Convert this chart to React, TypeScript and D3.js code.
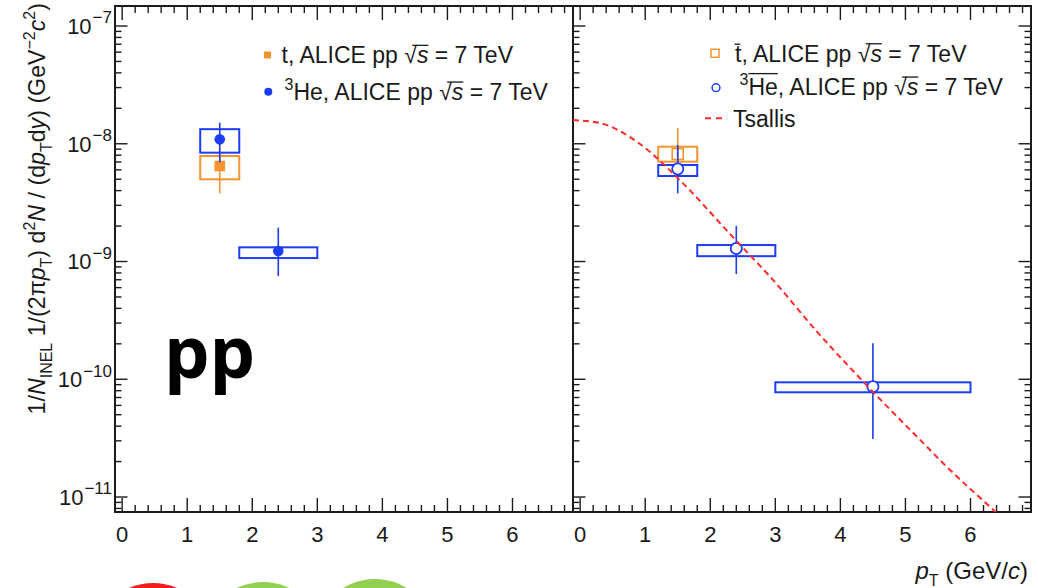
import React, { useEffect, useRef } from 'react';
import * as d3 from 'd3';

const W = 1038;
const H = 588;
const FONT = '"Liberation Sans", Arial, Helvetica, sans-serif';

// ---------- data ----------
const xTickValues = [0, 1, 2, 3, 4, 5, 6];
const yDecades = [-11, -10, -9, -8, -7];

// Left panel: triton (filled square)
const tritonX = [1.5];
const tritonBinLo = [1.2];
const tritonBinHi = [1.8];
const tritonY = [6.47e-9];
const tritonStatLo = [3.8e-9];
const tritonStatHi = [9.0e-9];
const tritonSysLo = [4.99e-9];
const tritonSysHi = [7.87e-9];

// Left panel: 3He (filled circle)
const he3X = [1.5, 2.4];
const he3BinLo = [1.2, 1.8];
const he3BinHi = [1.8, 3.0];
const he3Y = [1.09e-8, 1.23e-9];
const he3StatLo = [6.96e-9, 7.53e-10];
const he3StatHi = [1.51e-8, 1.94e-9];
const he3SysLo = [8.4e-9, 1.07e-9];
const he3SysHi = [1.33e-8, 1.32e-9];

// Right panel: anti-triton (open square)
const atX = [1.5];
const atBinLo = [1.2];
const atBinHi = [1.8];
const atY = [8.18e-9];
const atStatLo = [5.0e-9];
const atStatHi = [1.36e-8];
const atSysLo = [7.05e-9];
const atSysHi = [9.44e-9];

// Right panel: anti-3He (open circle)
const ahX = [1.5, 2.4, 4.5];
const ahBinLo = [1.2, 1.8, 3.0];
const ahBinHi = [1.8, 3.0, 6.0];
const ahY = [6.11e-9, 1.29e-9, 8.65e-11];
const ahStatLo = [3.79e-9, 7.83e-10, 3.11e-11];
const ahStatHi = [9.75e-9, 2.01e-9, 2.02e-10];
const ahSysLo = [5.32e-9, 1.11e-9, 7.75e-11];
const ahSysHi = [6.6e-9, 1.38e-9, 9.42e-11];

// Tsallis curve
const tsallisPt = [-0.11, 0.3, 0.92, 1.53, 2.39, 2.92, 3.64, 4.5, 5.33, 5.53, 6.38, 6.6];
const tsallisVal = [1.59e-8, 1.5e-8, 9.95e-9, 4.92e-9, 1.52e-9, 7.43e-10, 2.54e-10, 7.83e-11, 2.67e-11, 2.06e-11, 7.5e-12, 5.8e-12];

const ORANGE = '#f5932f';
const BLUE = '#1c3cf5';
const RED = '#ff2a2a';
const INK = '#1a1a1a';

type Part = [string, string];

function richText(sel: any, parts: Part[], fs: number, subFs: number) {
  let shift = 0;
  parts.forEach(([st, s]) => {
    let target = 0;
    let size = fs;
    let italic = false;
    if (st === 'sub') { target = 0.3 * fs; size = subFs; }
    else if (st === 'sup') { target = -0.45 * fs; size = subFs; }
    else if (st === 'i') italic = true;
    const ts = sel.append('tspan').text(s).attr('font-size', size).attr('dy', target - shift);
    if (italic) ts.attr('font-style', 'italic');
    shift = target;
  });
}

export default function App() {
  const ref = useRef<SVGSVGElement>(null);

  useEffect(() => {
    const svg = d3.select(ref.current);
    svg.selectAll('*').remove();

    svg.append('rect').attr('width', W).attr('height', H).attr('fill', '#fff');

    const yTop = 6;
    const yBot = 512;
    const y = d3.scaleLog().domain([7.46e-12, 1.479e-7]).range([yBot, yTop]);
    const xDomain: [number, number] = [-0.11, 6.93];
    const panels = [
      { x0: 115, x1: 573, leftTicks: true, rightTicks: false },
      { x0: 573, x1: 1031, leftTicks: true, rightTicks: true },
    ];
    const xs = panels.map(p => d3.scaleLinear().domain(xDomain).range([p.x0, p.x1]));

    // clip paths
    const defs = svg.append('defs');
    panels.forEach((p, i) => {
      defs.append('clipPath').attr('id', 'clip' + i)
        .append('rect').attr('x', p.x0).attr('y', yTop).attr('width', p.x1 - p.x0).attr('height', yBot - yTop);
    });

    // ticks
    const xMinor: number[] = [];
    for (let k = 0; k <= 34; k++) xMinor.push(+(k * 0.2).toFixed(2));
    const yMinor: number[] = [];
    for (let d = -12; d <= -7; d++) for (let m = 2; m <= 9; m++) {
      const v = m * Math.pow(10, d);
      if (v > y.domain()[0] && v < y.domain()[1]) yMinor.push(v);
    }
    const yMajor = yDecades.map(d => Math.pow(10, d));

    panels.forEach((p, i) => {
      const x = xs[i];
      const g = svg.append('g').attr('stroke', INK).attr('stroke-width', 1.4);
      xMinor.forEach(v => {
        const major = Math.abs(v - Math.round(v)) < 1e-6;
        const len = major ? 14 : 7;
        g.append('line').attr('x1', x(v)).attr('x2', x(v)).attr('y1', yBot).attr('y2', yBot - len);
        g.append('line').attr('x1', x(v)).attr('x2', x(v)).attr('y1', yTop).attr('y2', yTop + len);
      });
      const yt = [...yMajor.map(v => [v, 12.5]), ...yMinor.map(v => [v, 6.5])];
      yt.forEach(([v, len]) => {
        if (p.leftTicks) g.append('line').attr('x1', p.x0).attr('x2', p.x0 + len).attr('y1', y(v)).attr('y2', y(v));
        if (p.rightTicks) g.append('line').attr('x1', p.x1).attr('x2', p.x1 - len).attr('y1', y(v)).attr('y2', y(v));
      });
      // x labels
      xTickValues.forEach(v => {
        svg.append('text').attr('x', x(v)).attr('y', 542).attr('text-anchor', 'middle')
          .attr('font-size', 22).attr('font-family', FONT).attr('fill', INK).text(String(v));
      });
    });

    // frames
    panels.forEach(p => {
      svg.append('rect').attr('x', p.x0).attr('y', yTop).attr('width', p.x1 - p.x0).attr('height', yBot - yTop)
        .attr('fill', 'none').attr('stroke', INK).attr('stroke-width', 2);
    });

    // y labels
    yDecades.forEach(d => {
      const t = svg.append('text').attr('x', 112).attr('y', y(Math.pow(10, d)) + 7.8).attr('text-anchor', 'end')
        .attr('font-family', FONT).attr('fill', INK);
      t.append('tspan').attr('font-size', 22).text('10');
      t.append('tspan').attr('font-size', 17).attr('dy', -10.5).attr('dx', 1).text('\u2212' + String(-d));
    });

    // series drawing
    const drawSeries = (
      i: number, xv: number[], lo: number[], hi: number[], yv: number[],
      sLo: number[], sHi: number[], sysLo: number[], sysHi: number[],
      color: string, marker: string,
    ) => {
      const x = xs[i];
      const g = svg.append('g').attr('clip-path', `url(#clip${i})`);
      xv.forEach((xx, k) => {
        g.append('rect').attr('x', x(lo[k])).attr('width', x(hi[k]) - x(lo[k]))
          .attr('y', y(sysHi[k])).attr('height', y(sysLo[k]) - y(sysHi[k]))
          .attr('fill', 'none').attr('stroke', color).attr('stroke-width', 2);
        g.append('line').attr('x1', x(xx)).attr('x2', x(xx)).attr('y1', y(sHi[k])).attr('y2', y(sLo[k]))
          .attr('stroke', color).attr('stroke-width', 1.6);
        const cx = x(xx);
        const cy = y(yv[k]);
        if (marker === 'fsq') {
          g.append('rect').attr('x', cx - 5.3).attr('y', cy - 5.3).attr('width', 10.6).attr('height', 10.6).attr('fill', color);
        } else if (marker === 'fci') {
          g.append('circle').attr('cx', cx).attr('cy', cy).attr('r', 5.3).attr('fill', color);
        } else if (marker === 'osq') {
          g.append('rect').attr('x', cx - 5.5).attr('y', cy - 5.5).attr('width', 11).attr('height', 11)
            .attr('fill', 'none').attr('stroke', color).attr('stroke-width', 1.6);
        } else {
          g.append('circle').attr('cx', cx).attr('cy', cy).attr('r', 5.6).attr('fill', '#fff')
            .attr('stroke', color).attr('stroke-width', 1.8);
        }
      });
    };

    drawSeries(0, tritonX, tritonBinLo, tritonBinHi, tritonY, tritonStatLo, tritonStatHi, tritonSysLo, tritonSysHi, ORANGE, 'fsq');
    drawSeries(0, he3X, he3BinLo, he3BinHi, he3Y, he3StatLo, he3StatHi, he3SysLo, he3SysHi, BLUE, 'fci');
    drawSeries(1, atX, atBinLo, atBinHi, atY, atStatLo, atStatHi, atSysLo, atSysHi, ORANGE, 'osq');
    drawSeries(1, ahX, ahBinLo, ahBinHi, ahY, ahStatLo, ahStatHi, ahSysLo, ahSysHi, BLUE, 'oci');

    // Tsallis
    const ts = tsallisPt.map((pt, k) => [pt, tsallisVal[k]] as [number, number]);
    const line = d3.line<[number, number]>().x(d => xs[1](d[0])).y(d => y(d[1])).curve(d3.curveMonotoneX);
    svg.append('path').attr('clip-path', 'url(#clip1)').attr('d', line(ts) as string)
      .attr('fill', 'none').attr('stroke', RED).attr('stroke-width', 2).attr('stroke-dasharray', '6,4');

    // legends
    const LFS = 23;
    const mkText = (x: number, yy: number, parts: Part[]) => {
      const t = svg.append('text').attr('x', x).attr('y', yy).attr('font-size', LFS)
        .attr('font-family', FONT).attr('fill', INK).style('white-space', 'pre');
      richText(t, parts, LFS, 16);
      return t;
    };
    const span = (t: any, a: number, b: number) => {
      const n = t.node() as SVGTextElement;
      return [n.getStartPositionOfChar(a).x, n.getEndPositionOfChar(b).x];
    };
    const over = (x1: number, x2: number, yy: number) => {
      svg.append('line').attr('x1', x1).attr('x2', x2).attr('y1', yy).attr('y2', yy)
        .attr('stroke', INK).attr('stroke-width', 1.3);
    };
    const sqrtParts: Part[] = [['n', '\u221A'], ['i', 's'], ['n', ' = 7 TeV']];

    // left legend
    svg.append('rect').attr('x', 264).attr('y', 51.5).attr('width', 7).attr('height', 7).attr('fill', ORANGE);
    const l1 = mkText(281.5, 63.3, [['n', 't, ALICE pp '], ...sqrtParts]);
    let sp = span(l1, 12, 13); over(sp[0] + 8, sp[1], 63.3 - 0.78 * LFS);
    svg.append('circle').attr('cx', 268.3).attr('cy', 91.7).attr('r', 4).attr('fill', BLUE);
    const l2 = mkText(284.5, 100, [['sup', '3'], ['n', 'He'], ['n', ', ALICE pp '], ...sqrtParts]);
    sp = span(l2, 14, 15); over(sp[0] + 8, sp[1], 100 - 0.78 * LFS);

    // right legend
    svg.append('rect').attr('x', 711).attr('y', 49.3).attr('width', 8).attr('height', 8)
      .attr('fill', 'none').attr('stroke', ORANGE).attr('stroke-width', 1.5);
    const r1 = mkText(735, 61.7, [['n', 't, ALICE pp '], ...sqrtParts]);
    sp = span(r1, 12, 13); over(sp[0] + 8, sp[1], 61.7 - 0.78 * LFS);
    sp = span(r1, 0, 0); over(sp[0] - 0.5, sp[1] - 1, 61.7 - 0.76 * LFS);
    svg.append('circle').attr('cx', 716).attr('cy', 87.7).attr('r', 3.9).attr('fill', 'none')
      .attr('stroke', BLUE).attr('stroke-width', 1.5);
    const r2 = mkText(739.5, 95, [['sup', '3'], ['n', 'He'], ['n', ', ALICE pp '], ...sqrtParts]);
    sp = span(r2, 14, 15); over(sp[0] + 8, sp[1], 95 - 0.78 * LFS);
    sp = span(r2, 1, 2); over(sp[0], sp[1], 95 - 0.93 * LFS);
    svg.append('line').attr('x1', 705).attr('x2', 727).attr('y1', 118.3).attr('y2', 118.3)
      .attr('stroke', RED).attr('stroke-width', 2).attr('stroke-dasharray', '6,5');
    mkText(733, 126.7, [['n', 'Tsallis']]);

    // y-axis title
    const yt = svg.append('text').attr('transform', 'translate(45,3) rotate(-90)').attr('text-anchor', 'end')
      .attr('font-size', 23.2).attr('font-family', FONT).attr('fill', INK).style('white-space', 'pre');
    richText(yt, [
      ['n', '1/'], ['i', 'N'], ['sub', 'INEL'], ['n', ' 1/(2\u03C0'], ['i', 'p'], ['sub', 'T'], ['n', ') d'],
      ['sup', '2'], ['i', 'N'], ['n', ' / (d'], ['i', 'p'], ['sub', 'T'], ['n', 'd'], ['i', 'y'],
      ['n', ') (GeV'], ['sup', '\u22122'], ['i', 'c'], ['sup', '2'], ['n', ')'],
    ], 23.2, 16);

    // x-axis title
    const xt = svg.append('text').attr('x', 1028).attr('y', 579).attr('text-anchor', 'end')
      .attr('font-size', 24).attr('font-family', FONT).attr('fill', INK).style('white-space', 'pre');
    richText(xt, [['i', 'p'], ['sub', 'T'], ['n', ' (GeV/'], ['i', 'c'], ['n', ')']], 24, 16);

    // "pp" label
    svg.append('text').attr('x', 164).attr('y', 378).attr('font-size', 72)
      .attr('font-family', '"Open Sans", "Noto Sans", sans-serif').attr('font-weight', 700)
      .attr('fill', '#000').text('pp');

    // decorative circles at bottom
    svg.append('circle').attr('cx', 153).attr('cy', 643).attr('r', 60).attr('fill', '#f21d1d');
    svg.append('circle').attr('cx', 263).attr('cy', 642).attr('r', 60).attr('fill', '#92d050');
    svg.append('circle').attr('cx', 375).attr('cy', 639).attr('r', 60).attr('fill', '#92d050');
  }, []);

  return (
    <svg ref={ref} width={W} height={H}
      style={{ position: 'absolute', left: 0, top: 0, display: 'block', background: '#fff' }} />
  );
}
